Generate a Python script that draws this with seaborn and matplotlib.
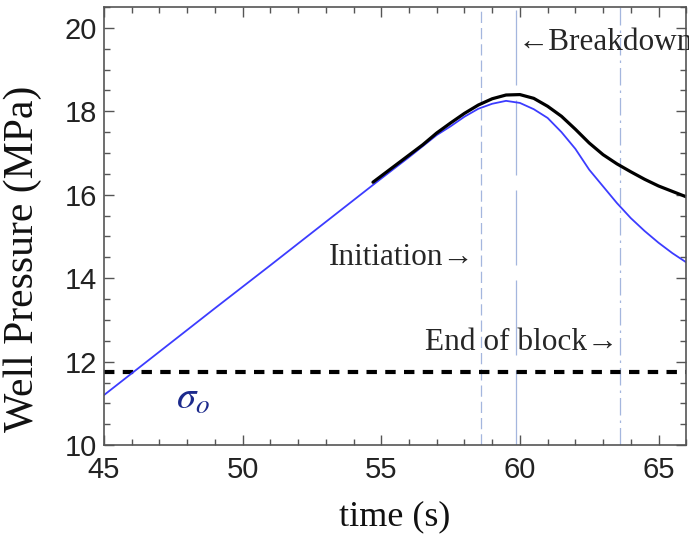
import numpy as np
import pandas as pd
import seaborn as sns
import matplotlib.pyplot as plt
from matplotlib.ticker import MultipleLocator

# data
t_blue = [45, 47, 49, 51, 53, 55, 56, 57, 57.5, 58, 58.5, 59, 59.5, 60, 60.5,
          61, 61.5, 62, 62.5, 63, 63.5, 64, 64.5, 65, 65.5, 66]
p_blue = [11.2, 12.24, 13.28, 14.31, 15.35, 16.39, 16.9, 17.43, 17.64, 17.87, 18.06,
          18.18, 18.25, 18.2, 18.05, 17.84, 17.5, 17.1, 16.6, 16.2, 15.8, 15.44,
          15.13, 14.85, 14.6, 14.38]
t_black = [54.7, 55.5, 56, 56.5, 57, 57.5, 58, 58.5, 59, 59.5, 60, 60.5, 61, 61.5,
           62, 62.5, 63, 63.5, 64, 64.5, 65, 65.5, 66]
p_black = [16.3, 16.7, 16.95, 17.2, 17.48, 17.72, 17.95, 18.15, 18.3, 18.39, 18.4,
           18.31, 18.12, 17.88, 17.57, 17.24, 16.96, 16.74, 16.55, 16.37, 16.21,
           16.08, 15.95]
sigma_o = 11.75
t_init = 58.58
t_break = 59.87
t_endblock = 63.6

df_blue = pd.DataFrame({"t": t_blue, "p": p_blue})
df_black = pd.DataFrame({"t": t_black, "p": p_black})

sns.set_style("ticks")
plt.rcParams['font.family'] = ['Liberation Sans', 'DejaVu Sans']
plt.rcParams['mathtext.fontset'] = 'stix'
serif = ['Liberation Serif', 'DejaVu Serif']

fig = plt.figure(figsize=(6.89, 5.35), dpi=100)
ax = fig.add_axes([0.151, 0.168, 0.845, 0.819])

vcol = '#a4b6de'
ax.axvline(t_init, color=vcol, lw=0.9, dashes=(9, 4))
ax.axvline(t_break, color=vcol, lw=0.9, dashes=(60, 12))
ax.axvline(t_endblock, color=vcol, lw=0.9, dashes=(14, 4, 2, 4))

ax.axhline(sigma_o, color='black', lw=3, dashes=(2.5, 2))

sns.lineplot(data=df_blue, x="t", y="p", ax=ax, color='#3c3cff', lw=1.3,
             solid_joinstyle='round')
sns.lineplot(data=df_black, x="t", y="p", ax=ax, color='black', lw=2.3,
             solid_joinstyle='round')

ax.set_xlim(45, 66)
ax.set_ylim(10, 20.5)
ax.xaxis.set_major_locator(MultipleLocator(5))
ax.xaxis.set_minor_locator(MultipleLocator(1))
ax.yaxis.set_major_locator(MultipleLocator(2))
ax.yaxis.set_minor_locator(MultipleLocator(0.5))
ax.tick_params(which='both', direction='in', top=True, right=True,
               color='#555555', labelsize=21, labelcolor='#222222')
ax.tick_params(which='major', length=7, width=1)
ax.tick_params(which='minor', length=4, width=1)
ax.tick_params(axis='x', pad=8)
ax.tick_params(axis='y', pad=5)
for s in ax.spines.values():
    s.set_color('#555555')
    s.set_linewidth(1.2)

ax.set_xlabel('time (s)', family=serif, fontsize=26, color='#111111')
ax.set_ylabel('Well Pressure (MPa)', family=serif, fontsize=30, color='#111111')
ax.xaxis.set_label_coords(0.5, -0.126)
ax.yaxis.set_label_coords(-0.106, 0.425)

ax.text(58.35, 14.5, 'Initiation\u2192', family=serif, fontsize=22.5,
        ha='right', va='center')
ax.text(63.55, 12.47, 'End of block\u2192', family=serif, fontsize=22.5,
        ha='right', va='center')
ax.text(59.9, 19.64, '\u2190Breakdown', family=serif, fontsize=22.5,
        ha='left', va='center', clip_on=False)
ax.text(48.2, 11.1, r'$\sigma_o$', fontsize=28, color='#1c2a8c',
        ha='center', va='center')

fig.savefig('out.png', dpi=100)
